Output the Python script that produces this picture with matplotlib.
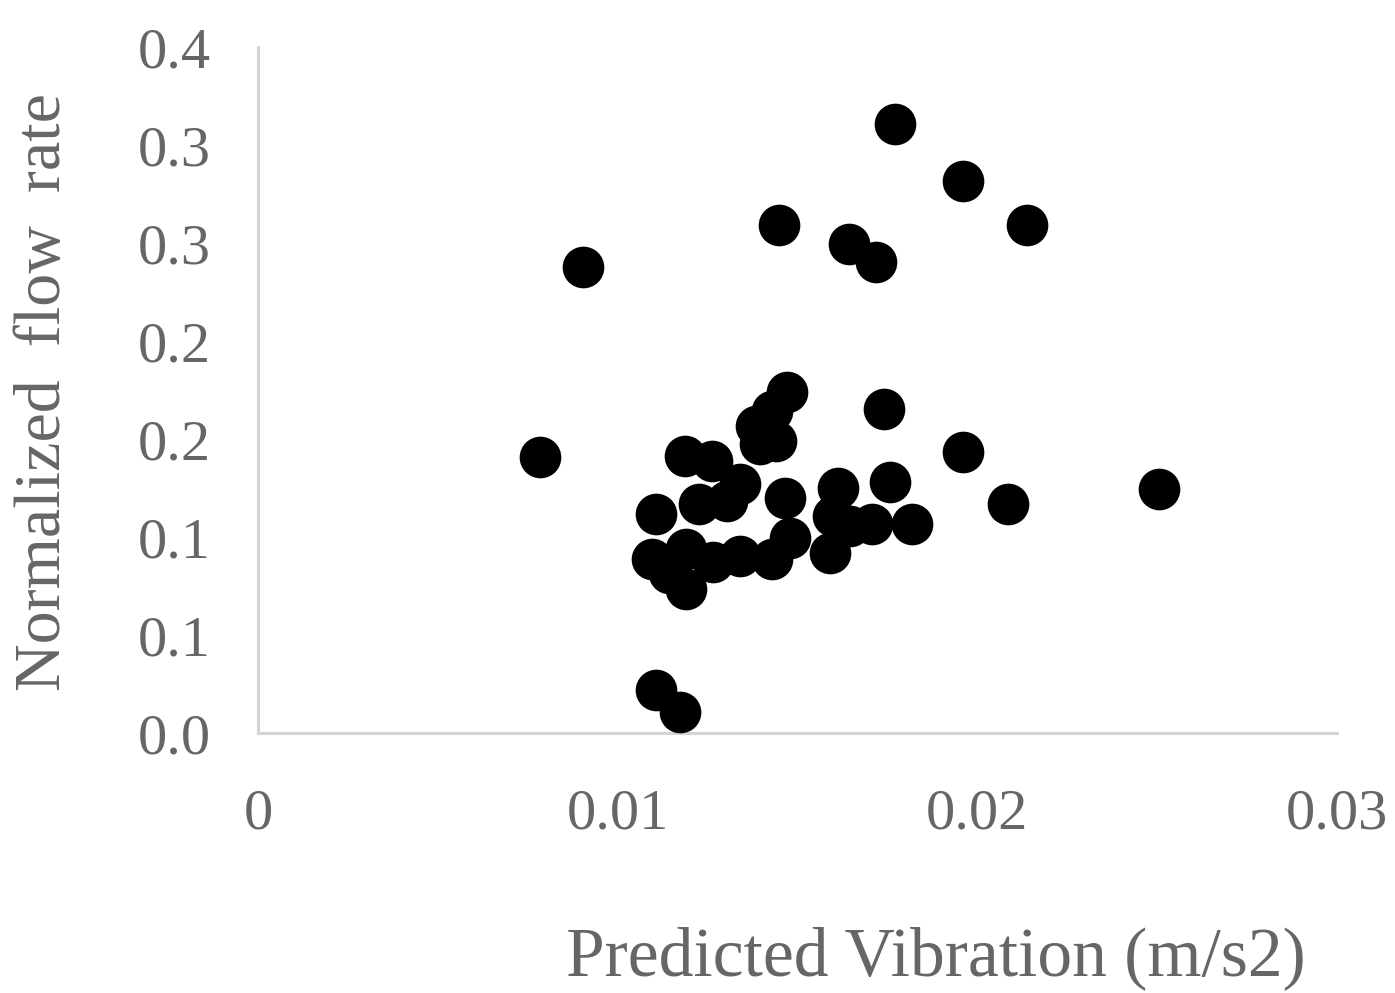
import matplotlib
matplotlib.use("Agg")
import matplotlib.pyplot as plt
from matplotlib.ticker import FixedLocator, FixedFormatter

# Predicted vibration (m/s2) vs normalized flow rate
vibration = [
    0.00784, 0.00904, 0.01448, 0.01771, 0.01961, 0.02139, 0.01643, 0.01718,
    0.02505, 0.02084, 0.01961, 0.01741, 0.01107, 0.01174, 0.01188, 0.01261,
    0.01339, 0.01227, 0.01305, 0.01107, 0.01470, 0.01428, 0.01386, 0.01439,
    0.01395, 0.01464, 0.01478, 0.01096, 0.01191, 0.01191, 0.01144, 0.01264,
    0.01339, 0.01428, 0.01612, 0.01757, 0.01598, 0.01590, 0.01707, 0.01819,
    0.01646,
]
flow_rate = [
    0.1407, 0.2379, 0.2594, 0.3106, 0.2815, 0.2594, 0.2497, 0.2405,
    0.1244, 0.1167, 0.1433, 0.1653, 0.0220, 0.0107, 0.1412, 0.1387,
    0.1269, 0.1167, 0.1182, 0.1116, 0.1740, 0.1643, 0.1566, 0.1489,
    0.1474, 0.1198, 0.0993, 0.0890, 0.0937, 0.0737, 0.0814, 0.0875,
    0.0901, 0.0890, 0.1249, 0.1279, 0.1105, 0.0916, 0.1064, 0.1064,
    0.1054,
]

x_ticks = [0.0, 0.01, 0.02, 0.03]
x_tick_labels = ["0", "0.01", "0.02", "0.03"]
y_ticks = [0.0, 0.05, 0.10, 0.15, 0.20, 0.25, 0.30, 0.35]
y_tick_labels = ["0.0", "0.1", "0.1", "0.2", "0.2", "0.3", "0.3", "0.4"]

text_color = "#666666"
axis_color = "#d4d4d4"
serif = ["Liberation Serif", "DejaVu Serif"]

fig = plt.figure(figsize=(13.95, 9.93), dpi=100)
ax = fig.add_axes([258 / 1395, 1 - 733 / 993, (1337 - 258) / 1395, (733 - 47) / 993])

ax.scatter(vibration, flow_rate, s=900, color="black", linewidths=0, zorder=3,
           clip_on=False)

ax.set_xlim(0, 0.03)
ax.set_ylim(0, 0.35)

ax.xaxis.set_major_locator(FixedLocator(x_ticks))
ax.xaxis.set_major_formatter(FixedFormatter(x_tick_labels))
ax.yaxis.set_major_locator(FixedLocator(y_ticks))
ax.yaxis.set_major_formatter(FixedFormatter(y_tick_labels))

for side in ("top", "right"):
    ax.spines[side].set_visible(False)
for side in ("left", "bottom"):
    ax.spines[side].set_color(axis_color)
    ax.spines[side].set_linewidth(2.2)

ax.tick_params(axis="both", length=0, labelcolor=text_color, labelsize=42)
ax.tick_params(axis="x", pad=40)
ax.tick_params(axis="y", pad=34)
for lbl in ax.get_xticklabels() + ax.get_yticklabels():
    lbl.set_fontfamily(serif)

fig.text(936 / 1395, 1 - 958 / 993, "Predicted Vibration (m/s2)",
         ha="center", va="center", fontsize=50, color=text_color, family=serif)
fig.text(44 / 1395, 1 - 392 / 993, "Normalized  flow  rate",
         ha="center", va="center", rotation=90, fontsize=47.5, color=text_color,
         family=serif)

fig.savefig("out.png", dpi=100, facecolor="white")
